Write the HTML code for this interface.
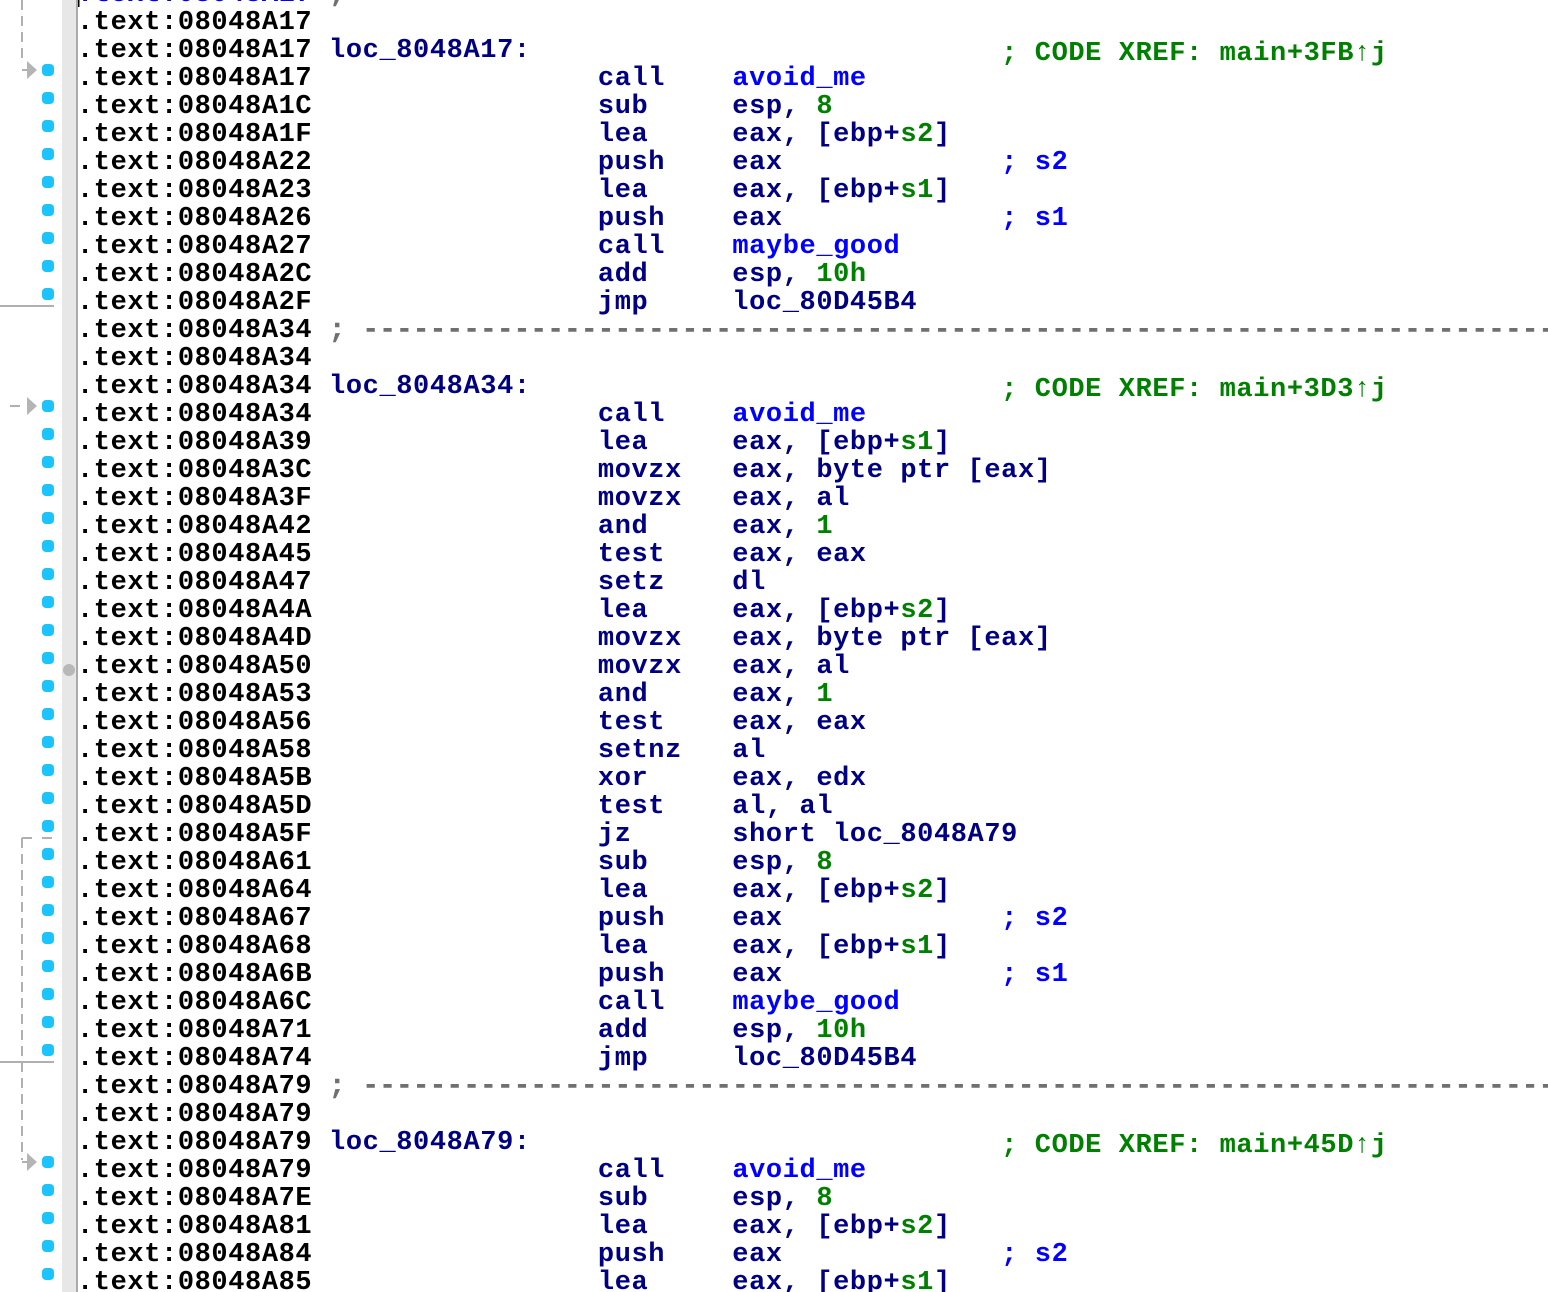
<!DOCTYPE html>
<html><head><meta charset="utf-8"><style>
html,body{margin:0;padding:0;background:#fff}
#p{position:relative;width:1548px;height:1292px;overflow:hidden;background:#fff}
#bar{position:absolute;left:62px;top:0;width:14px;height:1292px;background:#e7e7e7}
#bl{position:absolute;left:76px;top:0;width:1.5px;height:1292px;background:#aaa}
svg{position:absolute;left:0;top:0}
pre{position:absolute;left:77px;top:-19.5px;margin:0;font:bold 27px/28px "Liberation Mono",monospace;letter-spacing:.6px;color:#000;white-space:pre}
.n{color:#000080}.b{color:#0000ff}.g{color:#008000}.d{color:#707070;-webkit-text-stroke:.5px #707070;position:relative;top:.5px}
.x{color:#008000;position:relative;top:3px}
</style></head><body><div id="p">
<div id="bar"></div><div id="bl"></div>
<svg width="100" height="1292" viewBox="0 0 100 1292">
<g fill="none" stroke="#b0b0b0" stroke-width="2">
<path d="M22 0V62" stroke-dasharray="10 6"/>
<path d="M22 70H30"/>
<path d="M10 406H20"/>
<path d="M22 838V1160" stroke-dasharray="10 6"/>
<path d="M22 838H32"/><path d="M42 838H52"/>
<path d="M22 1162H30"/>
<path d="M0 306H54"/><path d="M0 1062H54"/>
</g>
<g fill="#b4b4b4"><path d="M27 61L37 70L27 79Z"/><path d="M27 397L37 406L27 415Z"/><path d="M27 1153L37 1162L27 1171Z"/></g>
<circle cx="69" cy="670" r="6" fill="#b8b8b8"/>
<rect x="78" y="0" width="1.5" height="7" fill="#000"/>
<g fill="#1cc4ff">
<rect x="42" y="64" width="12" height="12" rx="4"/><rect x="42" y="92" width="12" height="12" rx="4"/><rect x="42" y="120" width="12" height="12" rx="4"/><rect x="42" y="148" width="12" height="12" rx="4"/><rect x="42" y="176" width="12" height="12" rx="4"/><rect x="42" y="204" width="12" height="12" rx="4"/><rect x="42" y="232" width="12" height="12" rx="4"/><rect x="42" y="260" width="12" height="12" rx="4"/><rect x="42" y="288" width="12" height="12" rx="4"/>
<rect x="42" y="400" width="12" height="12" rx="4"/><rect x="42" y="428" width="12" height="12" rx="4"/><rect x="42" y="456" width="12" height="12" rx="4"/><rect x="42" y="484" width="12" height="12" rx="4"/><rect x="42" y="512" width="12" height="12" rx="4"/><rect x="42" y="540" width="12" height="12" rx="4"/><rect x="42" y="568" width="12" height="12" rx="4"/><rect x="42" y="596" width="12" height="12" rx="4"/><rect x="42" y="624" width="12" height="12" rx="4"/><rect x="42" y="652" width="12" height="12" rx="4"/><rect x="42" y="680" width="12" height="12" rx="4"/><rect x="42" y="708" width="12" height="12" rx="4"/><rect x="42" y="736" width="12" height="12" rx="4"/><rect x="42" y="764" width="12" height="12" rx="4"/><rect x="42" y="792" width="12" height="12" rx="4"/><rect x="42" y="820" width="12" height="12" rx="4"/><rect x="42" y="848" width="12" height="12" rx="4"/><rect x="42" y="876" width="12" height="12" rx="4"/><rect x="42" y="904" width="12" height="12" rx="4"/><rect x="42" y="932" width="12" height="12" rx="4"/><rect x="42" y="960" width="12" height="12" rx="4"/><rect x="42" y="988" width="12" height="12" rx="4"/><rect x="42" y="1016" width="12" height="12" rx="4"/><rect x="42" y="1044" width="12" height="12" rx="4"/>
<rect x="42" y="1156" width="12" height="12" rx="4"/><rect x="42" y="1184" width="12" height="12" rx="4"/><rect x="42" y="1212" width="12" height="12" rx="4"/><rect x="42" y="1240" width="12" height="12" rx="4"/><rect x="42" y="1268" width="12" height="12" rx="4"/>
</g>
</svg>
<pre><span class="b">.text:08048A17</span> <span class="d">;</span>
.text:08048A17
.text:08048A17 <span class="n">loc_8048A17:</span>                            <span class="x">; CODE XREF: main+3FB↑j</span>
.text:08048A17                 <span class="n">call    </span><span class="b">avoid_me</span>
.text:08048A1C                 <span class="n">sub     esp, </span><span class="g">8</span>
.text:08048A1F                 <span class="n">lea     eax, [ebp+</span><span class="g">s2</span><span class="n">]</span>
.text:08048A22                 <span class="n">push    eax</span>             <span class="b">; s2</span>
.text:08048A23                 <span class="n">lea     eax, [ebp+</span><span class="g">s1</span><span class="n">]</span>
.text:08048A26                 <span class="n">push    eax</span>             <span class="b">; s1</span>
.text:08048A27                 <span class="n">call    </span><span class="b">maybe_good</span>
.text:08048A2C                 <span class="n">add     esp, </span><span class="g">10h</span>
.text:08048A2F                 <span class="n">jmp     loc_80D45B4</span>
.text:08048A34 <span class="d">; ---------------------------------------------------------------------------</span>
.text:08048A34
.text:08048A34 <span class="n">loc_8048A34:</span>                            <span class="x">; CODE XREF: main+3D3↑j</span>
.text:08048A34                 <span class="n">call    </span><span class="b">avoid_me</span>
.text:08048A39                 <span class="n">lea     eax, [ebp+</span><span class="g">s1</span><span class="n">]</span>
.text:08048A3C                 <span class="n">movzx   eax, byte ptr [eax]</span>
.text:08048A3F                 <span class="n">movzx   eax, al</span>
.text:08048A42                 <span class="n">and     eax, </span><span class="g">1</span>
.text:08048A45                 <span class="n">test    eax, eax</span>
.text:08048A47                 <span class="n">setz    dl</span>
.text:08048A4A                 <span class="n">lea     eax, [ebp+</span><span class="g">s2</span><span class="n">]</span>
.text:08048A4D                 <span class="n">movzx   eax, byte ptr [eax]</span>
.text:08048A50                 <span class="n">movzx   eax, al</span>
.text:08048A53                 <span class="n">and     eax, </span><span class="g">1</span>
.text:08048A56                 <span class="n">test    eax, eax</span>
.text:08048A58                 <span class="n">setnz   al</span>
.text:08048A5B                 <span class="n">xor     eax, edx</span>
.text:08048A5D                 <span class="n">test    al, al</span>
.text:08048A5F                 <span class="n">jz      short loc_8048A79</span>
.text:08048A61                 <span class="n">sub     esp, </span><span class="g">8</span>
.text:08048A64                 <span class="n">lea     eax, [ebp+</span><span class="g">s2</span><span class="n">]</span>
.text:08048A67                 <span class="n">push    eax</span>             <span class="b">; s2</span>
.text:08048A68                 <span class="n">lea     eax, [ebp+</span><span class="g">s1</span><span class="n">]</span>
.text:08048A6B                 <span class="n">push    eax</span>             <span class="b">; s1</span>
.text:08048A6C                 <span class="n">call    </span><span class="b">maybe_good</span>
.text:08048A71                 <span class="n">add     esp, </span><span class="g">10h</span>
.text:08048A74                 <span class="n">jmp     loc_80D45B4</span>
.text:08048A79 <span class="d">; ---------------------------------------------------------------------------</span>
.text:08048A79
.text:08048A79 <span class="n">loc_8048A79:</span>                            <span class="x">; CODE XREF: main+45D↑j</span>
.text:08048A79                 <span class="n">call    </span><span class="b">avoid_me</span>
.text:08048A7E                 <span class="n">sub     esp, </span><span class="g">8</span>
.text:08048A81                 <span class="n">lea     eax, [ebp+</span><span class="g">s2</span><span class="n">]</span>
.text:08048A84                 <span class="n">push    eax</span>             <span class="b">; s2</span>
.text:08048A85                 <span class="n">lea     eax, [ebp+</span><span class="g">s1</span><span class="n">]</span></pre>
</div></body></html>
